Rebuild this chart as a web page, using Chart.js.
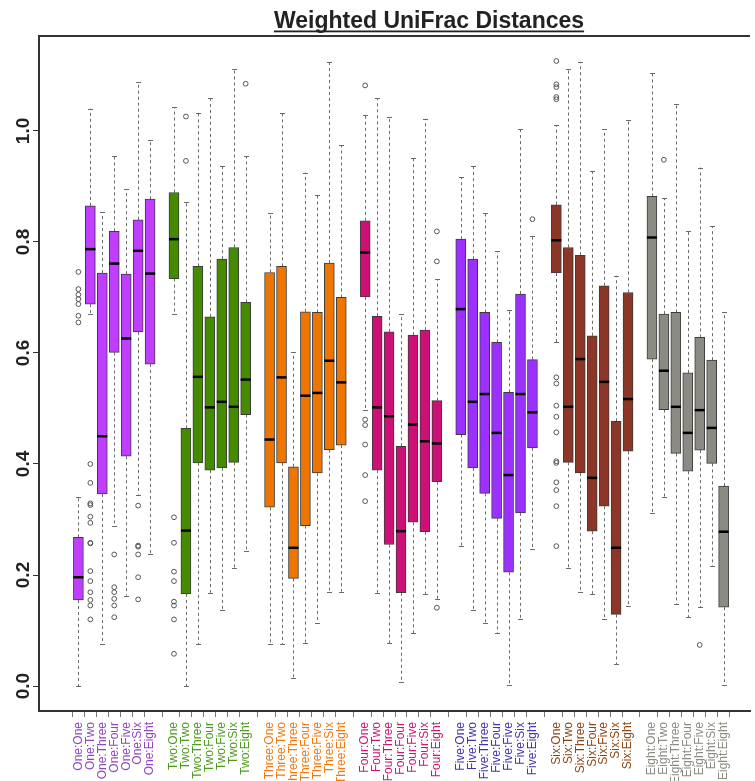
<!DOCTYPE html>
<html lang="en">
<head>
<meta charset="UTF-8">
<title>Weighted UniFrac Distances</title>
<script src="https://cdn.jsdelivr.net/npm/chart.js"></script>
<style>
  html, body { margin: 0; padding: 0; background: #fff; }
  #wrap { width: 755px; height: 781px; }
</style>
</head>
<body>
<div id="wrap"><canvas id="myChart"></canvas></div>
<script>
// groups: every pair "A:B" is one box, 7 boxes per group
const groups = ['One', 'Two', 'Three', 'Four', 'Five', 'Six', 'Eight'];
const categories = [];
groups.forEach(a => groups.forEach(b => categories.push(a + ':' + b)));

const boxColors   = ['#BF3EFF', '#458B00', '#EE7600', '#CD1076', '#9B30FF', '#8B3626', '#8B8B83'];
const labelColors = ['#9045C0', '#4C9A1E', '#F07A12', '#CC1477', '#3F33B0', '#8B4513', '#8B8B83'];

const upperWhisker = [
  0.341, 1.040, 0.854, 0.954, 0.895, 1.088, 0.983,
  1.043, 0.872, 1.033, 1.059, 0.936, 1.112, 0.954,
  0.853, 1.033, 0.601, 0.925, 0.884, 1.124, 0.974,
  1.028, 1.059, 1.025, 0.670, 0.952, 1.022, 0.733,
  0.917, 0.936, 0.852, 0.783, 0.677, 1.003, 0.810,
  1.010, 1.112, 1.124, 0.928, 1.003, 0.739, 1.019,
  1.105, 0.879, 1.049, 0.819, 0.934, 0.828, 0.673
];
const q3 = [
  0.268, 0.865, 0.744, 0.819, 0.742, 0.840, 0.877,
  0.889, 0.464, 0.756, 0.665, 0.769, 0.790, 0.691,
  0.745, 0.756, 0.395, 0.674, 0.673, 0.762, 0.700,
  0.838, 0.666, 0.638, 0.432, 0.632, 0.641, 0.514,
  0.805, 0.769, 0.673, 0.619, 0.529, 0.706, 0.588,
  0.867, 0.790, 0.776, 0.631, 0.721, 0.477, 0.709,
  0.882, 0.670, 0.673, 0.564, 0.628, 0.587, 0.360
];
const median = [
  0.196, 0.787, 0.450, 0.761, 0.626, 0.784, 0.743,
  0.805, 0.280, 0.557, 0.502, 0.512, 0.503, 0.552,
  0.444, 0.556, 0.249, 0.523, 0.528, 0.586, 0.547,
  0.781, 0.502, 0.486, 0.279, 0.471, 0.441, 0.437,
  0.679, 0.512, 0.526, 0.456, 0.380, 0.526, 0.493,
  0.803, 0.503, 0.589, 0.375, 0.548, 0.249, 0.517,
  0.808, 0.568, 0.503, 0.456, 0.497, 0.465, 0.278
];
const q1 = [
  0.155, 0.688, 0.346, 0.601, 0.414, 0.638, 0.580,
  0.734, 0.166, 0.402, 0.389, 0.393, 0.403, 0.489,
  0.322, 0.402, 0.194, 0.289, 0.384, 0.426, 0.434,
  0.701, 0.389, 0.255, 0.168, 0.295, 0.278, 0.368,
  0.453, 0.393, 0.347, 0.302, 0.205, 0.312, 0.429,
  0.744, 0.403, 0.384, 0.279, 0.324, 0.129, 0.423,
  0.589, 0.498, 0.419, 0.387, 0.425, 0.401, 0.142
];
const lowerWhisker = [
  0.000, 0.671, 0.075, 0.289, 0.163, 0.345, 0.238,
  0.671, 0.000, 0.075, 0.168, 0.137, 0.213, 0.243,
  0.076, 0.076, 0.014, 0.077, 0.114, 0.169, 0.170,
  0.497, 0.168, 0.077, 0.008, 0.095, 0.166, 0.156,
  0.252, 0.137, 0.114, 0.095, 0.002, 0.121, 0.246,
  0.619, 0.213, 0.169, 0.166, 0.121, 0.039, 0.144,
  0.312, 0.340, 0.148, 0.124, 0.142, 0.216, 0.001
];
const outliers = [
  // One
  [0.746, 0.715, 0.705, 0.697, 0.688, 0.667, 0.655],
  [0.400, 0.366, 0.329, 0.326, 0.305, 0.294, 0.258, 0.257, 0.207, 0.189, 0.169, 0.155, 0.145, 0.120],
  [],
  [0.237, 0.178, 0.169, 0.157, 0.145, 0.124],
  [],
  [0.325, 0.253, 0.251, 0.237, 0.196, 0.156],
  [],
  // Two
  [0.304, 0.258, 0.206, 0.189, 0.152, 0.145, 0.120, 0.058],
  [1.026, 0.946],
  [], [], [], [],
  [1.085],
  // Three
  [], [], [], [], [], [], [],
  // Four
  [1.082, 0.480, 0.470, 0.435, 0.380, 0.333],
  [], [], [], [], [],
  [0.819, 0.765, 0.141],
  // Five
  [], [], [], [], [], [],
  [0.841],
  // Six
  [1.126, 1.084, 1.079, 1.061, 1.057, 0.556, 0.545, 0.505, 0.485, 0.457, 0.405, 0.402, 0.367, 0.353, 0.324, 0.252],
  [], [], [], [], [], [],
  // Eight
  [],
  [0.948],
  [], [],
  [0.074],
  [], []
];
const yTicks = [0.0, 0.2, 0.4, 0.6, 0.8, 1.0];

// position on x: one empty slot between groups
const slotOf = i => Math.floor(i / 7) * 8 + (i % 7);
const slots = categories.map((c, i) => slotOf(i));
const groupOf = i => Math.floor(i / 7);

const boxData = categories.map((c, i) => ({ x: slots[i], y: [q1[i], q3[i]] }));
const outlierData = [];
outliers.forEach((list, i) => list.forEach(v => outlierData.push({ x: slots[i], y: v })));

const FONT = '"Liberation Sans", Arial, Helvetica, sans-serif';

// whiskers, caps, medians, title, y labels
const boxPlugin = {
  id: 'boxParts',
  beforeDatasetsDraw(chart) {
    const ctx = chart.ctx, xs = chart.scales.x, ys = chart.scales.y;
    ctx.save();
    ctx.strokeStyle = '#6a6a6a';
    ctx.lineWidth = 1;
    categories.forEach((c, i) => {
      const px = Math.round(xs.getPixelForValue(slots[i])) + 0.5;
      ctx.setLineDash([3, 3]);
      ctx.beginPath();
      ctx.moveTo(px, ys.getPixelForValue(q3[i]));
      ctx.lineTo(px, ys.getPixelForValue(upperWhisker[i]));
      ctx.moveTo(px, ys.getPixelForValue(q1[i]));
      ctx.lineTo(px, ys.getPixelForValue(lowerWhisker[i]));
      ctx.stroke();
      ctx.setLineDash([]);
      ctx.beginPath();
      [upperWhisker[i], lowerWhisker[i]].forEach(v => {
        const py = Math.round(ys.getPixelForValue(v)) + 0.5;
        ctx.moveTo(px - 2.5, py);
        ctx.lineTo(px + 2.5, py);
      });
      ctx.stroke();
    });
    ctx.restore();
  },
  afterDatasetsDraw(chart) {
    const ctx = chart.ctx, xs = chart.scales.x, ys = chart.scales.y;
    ctx.save();
    ctx.strokeStyle = '#000';
    ctx.lineWidth = 2.5;
    categories.forEach((c, i) => {
      const px = xs.getPixelForValue(slots[i]);
      const py = ys.getPixelForValue(median[i]);
      ctx.beginPath();
      ctx.moveTo(px - 5, py);
      ctx.lineTo(px + 5, py);
      ctx.stroke();
    });
    ctx.restore();
  },
  afterDraw(chart) {
    const ctx = chart.ctx, ys = chart.scales.y, area = chart.chartArea;
    ctx.save();
    // top frame line
    ctx.strokeStyle = '#333';
    ctx.lineWidth = 2;
    ctx.beginPath();
    ctx.moveTo(area.left - 1, area.top);
    ctx.lineTo(area.right, area.top);
    ctx.stroke();
    // y tick labels, rotated like R
    ctx.fillStyle = '#222';
    ctx.font = 'bold 19px ' + FONT;
    ctx.textAlign = 'center';
    ctx.textBaseline = 'middle';
    yTicks.forEach(v => {
      ctx.save();
      ctx.translate(24, ys.getPixelForValue(v));
      ctx.rotate(-Math.PI / 2);
      ctx.fillText(v.toFixed(1), 0, 0);
      ctx.restore();
    });
    // underlined title
    const title = 'Weighted UniFrac Distances';
    ctx.font = 'bold 23px ' + FONT;
    ctx.textAlign = 'center';
    ctx.textBaseline = 'alphabetic';
    ctx.fillText(title, 429, 28);
    const w = ctx.measureText(title).width;
    ctx.fillRect(429 - w / 2, 30.5, w, 1.8);
    ctx.restore();
  }
};

const ctx = document.getElementById('myChart').getContext('2d');
const myChart = new Chart(ctx, {
  type: 'bar',
  data: {
    datasets: [
      {
        type: 'bar',
        data: boxData,
        backgroundColor: categories.map((c, i) => boxColors[groupOf(i)]),
        borderColor: '#3c3c3c',
        borderWidth: 1,
        borderSkipped: false,
        barThickness: 10
      },
      {
        type: 'scatter',
        data: outlierData,
        pointStyle: 'circle',
        pointRadius: 2.4,
        backgroundColor: 'rgba(0,0,0,0)',
        borderColor: '#555',
        pointBorderWidth: 1,
        showLine: false
      }
    ]
  },
  options: {
    responsive: true,
    maintainAspectRatio: false,
    animation: false,
    layout: { padding: { top: 36, left: 0, right: 0, bottom: 0 } },
    plugins: { legend: { display: false }, tooltip: { enabled: false }, title: { display: false } },
    scales: {
      x: {
        type: 'linear',
        min: -2.69,
        max: 55.6,
        afterBuildTicks: scale => { scale.ticks = slots.map(v => ({ value: v })); },
        afterFit: scale => { scale.height = 70; },
        border: { display: true, color: '#333', width: 2 },
        grid: { drawOnChartArea: false, drawTicks: true, tickLength: 6, color: '#777' },
        ticks: {
          autoSkip: false,
          minRotation: 90,
          maxRotation: 90,
          padding: 5,
          font: { family: FONT, size: 12 },
          color: c => labelColors[groupOf(c.index)],
          callback: (value, index) => categories[index]
        }
      },
      y: {
        type: 'linear',
        min: -0.045,
        max: 1.171,
        afterBuildTicks: scale => { scale.ticks = yTicks.map(v => ({ value: v })); },
        afterFit: scale => { scale.width = 39; },
        border: { display: true, color: '#333', width: 2 },
        grid: { drawOnChartArea: false, drawTicks: true, tickLength: 6, color: '#333' },
        ticks: { display: false }
      }
    }
  },
  plugins: [boxPlugin]
});
</script>
</body>
</html>
